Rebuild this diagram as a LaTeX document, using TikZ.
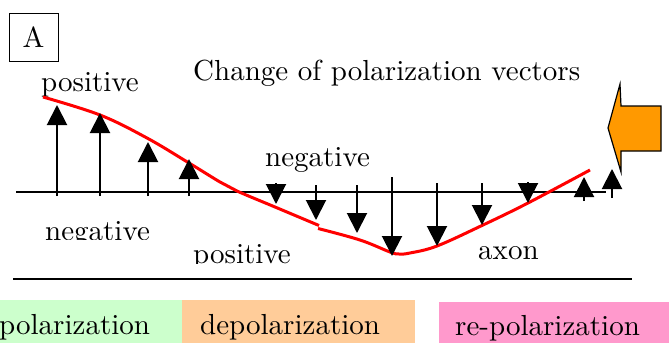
\documentclass[tikz,border=0pt]{standalone}
\usepackage{fontspec}
\setmainfont{lmroman10-regular.otf}
\usetikzlibrary{arrows.meta}
\definecolor{redline}{HTML}{FF0000}
\definecolor{arroworange}{HTML}{FF9900}
\definecolor{boxgreen}{HTML}{CCFFCC}
\definecolor{boxorange}{HTML}{FFCC99}
\definecolor{boxpink}{HTML}{FF99CC}
\begin{document}
\begin{tikzpicture}[x=1pt,y=-1pt,
  lbl/.style={inner sep=0pt,anchor=base west,font=\fontsize{29}{34}\selectfont},
  vec/.style={line width=2pt,-{Triangle[width=20pt,length=20pt]}},
  baseaxis/.style={line width=2pt},
  curve/.style={line width=3pt,draw=redline}]
\clip (0,0) rectangle (669,343);
% bottom colour bands
\fill[boxgreen] (0,300) rectangle (182,343);
\fill[boxorange] (182,300) rectangle (415,343);
\fill[boxpink] (439,302) rectangle (669,343);
\node[lbl] (polt) at (-1,334.5) {polarization};
\node[lbl] (dept) at (200,334) {depolarization};
\node[lbl] (rept) at (455,335.5) {re-polarization};
% label box
\node[draw,line width=1pt,minimum width=49pt,minimum height=48pt,inner sep=0pt,
  font=\fontsize{29}{34}\selectfont] (boxA) at (33.5,37.5) {A};
% texts
\node[lbl] (title) at (193,80) {Change of polarization vectors};
\node[lbl] (postop) at (41,91) {positive};
\node[lbl] (negtop) at (265,166) {negative};
\node[lbl] (axon) at (478,259) {axon};
\begin{scope}
  \clip (0,200) rectangle (180,239.5);
  \node[lbl] (negbot) at (45,240) {negative};
\end{scope}
\begin{scope}
  \clip (180,240) rectangle (320,263);
  \node[lbl] (posbot) at (193,263.5) {positive};
\end{scope}
% axis lines
\draw[baseaxis] (16,192) -- (606,192);
\draw[line width=2.5pt] (13,279) -- (632,279);
% red curve
\draw[curve,line join=round] plot[smooth,tension=0.6] coordinates
  {(43,97) (100,115) (147,138) (189,163) (220,182) (237,191) (275,207) (319,225.5)};
\draw[curve,line join=round] plot[smooth,tension=0.6] coordinates
  {(318,228.5) (360,240) (390,252) (399,254) (410,253) (437,246) (483,225) (528,203) (590,170)};
% up vectors
\draw[vec] (57,196) -- (57,105);
\draw[vec] (100,196) -- (100,113);
\draw[vec] (148,196) -- (148,142);
\draw[vec] (189,196) -- (189,159);
\draw[vec] (584,201) -- (584,177);
\draw[vec] (612,198) -- (612,169);
% down vectors
\draw[vec] (276,183) -- (276,204);
\draw[vec] (316,185) -- (316,220);
\draw[vec] (357,185) -- (357,233);
\draw[vec] (392,177) -- (392,256);
\draw[vec] (437,183) -- (437,246);
\draw[vec] (482,183) -- (482,225);
\draw[vec] (528,182) -- (528,203);
% orange arrow
\draw[fill=arroworange,line width=1.2pt,line join=miter]
  (608,128) -- (620,84) -- (621,106) -- (661,106) -- (661,151) -- (621,151) -- (621,172) -- cycle;
\end{tikzpicture}
\end{document}
